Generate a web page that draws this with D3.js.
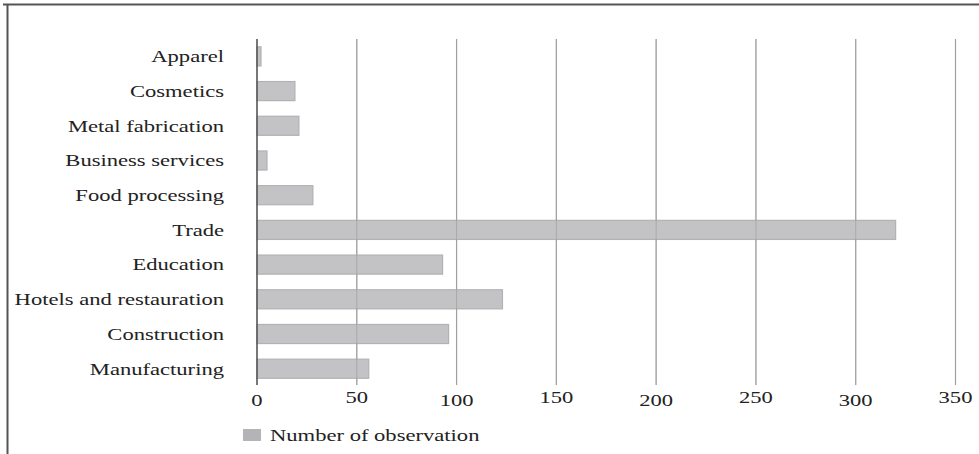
<!DOCTYPE html>
<html>
<head>
<meta charset="utf-8">
<script src="https://cdn.jsdelivr.net/npm/d3@7/dist/d3.min.js"></script>
<style>
  html, body { margin: 0; padding: 0; background: #fff; }
  svg { display: block; }
  text { font-family: "Liberation Serif", "DejaVu Serif", serif; fill: #222; }
</style>
</head>
<body>
<svg id="chart" width="979" height="454"></svg>
<script>
// Sectors and number of observations per sector (top to bottom)
const sectors = [
  "Apparel", "Cosmetics", "Metal fabrication", "Business services",
  "Food processing", "Trade", "Education", "Hotels and restauration",
  "Construction", "Manufacturing"
];
const observations = [2, 19, 21, 5, 28, 320, 93, 123, 96, 56];
const xTicks = [0, 50, 100, 150, 200, 250, 300, 350];
const seriesName = "Number of observation";

const svg = d3.select("#chart");
const W = 979, H = 454;
const FONT = 16.5, STRETCH = 1.37;   // wide-set serif lettering

// Place a text node at (px, py) with horizontal stretch
function place(sel, px, py) {
  return sel.attr("transform", (d, i) =>
    `translate(${typeof px === "function" ? px(d, i) : px},${typeof py === "function" ? py(d, i) : py}) scale(${STRETCH},1)`);
}

// Outer frame: top and left rules
svg.append("line").attr("x1", 3).attr("x2", W).attr("y1", 4.5).attr("y2", 4.5)
  .attr("stroke", "#555").attr("stroke-width", 2);
svg.append("line").attr("x1", 7.5).attr("x2", 7.5).attr("y1", 4).attr("y2", H)
  .attr("stroke", "#555").attr("stroke-width", 2);

const plot = { left: 257, right: 955.5, top: 39, bottom: 385 };

const x = d3.scaleLinear().domain([0, 350]).range([plot.left, plot.right]);
const y = d3.scaleBand().domain(sectors).range([39.2, 385.9]).paddingInner(0.45).paddingOuter(0.22);

// Vertical gridlines
svg.append("g").selectAll("line").data(xTicks.slice(1)).join("line")
  .attr("x1", d => x(d)).attr("x2", d => x(d))
  .attr("y1", plot.top).attr("y2", plot.bottom)
  .attr("stroke", "#a8a8a8").attr("stroke-width", 1.2);

// Bars
svg.append("g").selectAll("rect").data(sectors).join("rect")
  .attr("x", x(0))
  .attr("y", d => y(d))
  .attr("width", (d, i) => x(observations[i]) - x(0))
  .attr("height", y.bandwidth())
  .attr("fill", "#c3c3c5")
  .attr("stroke", "#b2b2b4")
  .attr("stroke-width", 1.2);

// Gridline marks where they cross the bars
svg.append("g").selectAll("line").data(xTicks.slice(1)).join("line")
  .attr("x1", d => x(d)).attr("x2", d => x(d))
  .attr("y1", plot.top).attr("y2", plot.bottom)
  .attr("stroke", "#9a9a9a").attr("stroke-width", 1).attr("opacity", 0.6);

// Value axis baseline
svg.append("line").attr("x1", x(0)).attr("x2", x(0))
  .attr("y1", plot.top).attr("y2", plot.bottom)
  .attr("stroke", "#555").attr("stroke-width", 1.6);

// Category labels
place(svg.append("g").selectAll("text").data(sectors).join("text"),
      224, d => y(d) + y.bandwidth() / 2)
  .attr("dy", "0.35em")
  .attr("text-anchor", "end")
  .attr("font-size", FONT)
  .text(d => d);

// Tick labels (slightly staggered baseline)
place(svg.append("g").selectAll("text").data(xTicks).join("text"),
      d => x(d), (d, i) => i % 2 === 0 ? 405.5 : 402.5)
  .attr("text-anchor", "middle")
  .attr("font-size", FONT)
  .attr("fill", "#333")
  .text(d => d);

// Legend
svg.append("rect").attr("x", 243).attr("y", 429).attr("width", 18).attr("height", 12)
  .attr("fill", "#b4b4b6");
place(svg.append("text"), 270, 435)
  .attr("dy", "0.35em")
  .attr("font-size", FONT).text(seriesName);
</script>
</body>
</html>
